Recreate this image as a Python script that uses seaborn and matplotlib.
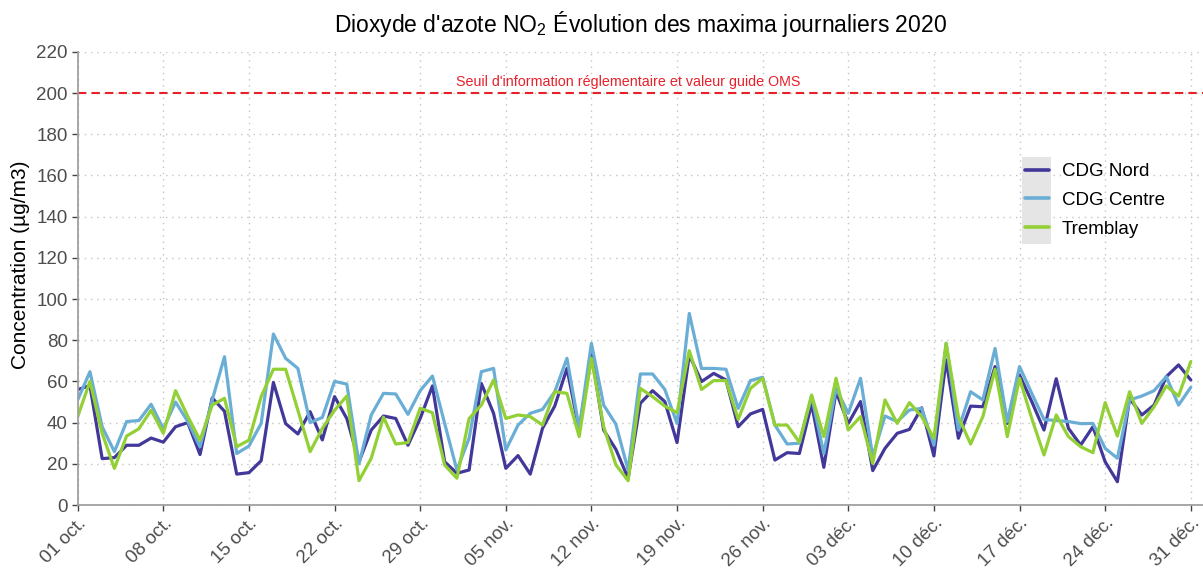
import matplotlib
matplotlib.use("Agg")
import matplotlib.pyplot as plt
from matplotlib.lines import Line2D
from matplotlib.patches import Rectangle
import seaborn as sns
import pandas as pd

# daily maxima, 01 oct -> 31 dec 2020 (µg/m3)
days = pd.date_range("2020-10-01", "2020-12-31", freq="D")

cdg_nord = [56, 58, 22.5, 23, 29, 29, 32.5, 30.5, 38, 40,
            24.5, 52, 45.5, 15, 15.7, 21.5, 59.5, 39.5, 34.5, 45.3,
            31.6, 52.6, 42, 21, 36.4, 43.2, 42, 29, 42, 57.8,
            21, 15.4, 17, 59, 44.5, 17.8, 24, 15, 37.2, 48,
            66.3, 36.4, 73.6, 36.4, 27, 13, 49.4, 55.5, 50.2, 30.3,
            72.8, 59.9, 63.9, 60.7, 38, 44.2, 46.4, 21.8, 25.4, 25,
            49, 18.3, 55, 39.6, 50.2, 16.7, 27.5, 34.8, 36.7, 47.2,
            23.8, 70.4, 32.4, 48, 47.7, 67.2, 39.6, 63.1, 50.2, 36.4,
            61.3, 37.2, 29.1, 38, 21, 11.3, 51.8, 43.7, 48.5, 62.3,
            68, 60.7]

cdg_centre = [51, 64.7, 38, 25.9, 40.5, 41, 48.9, 37, 50, 40.5,
              28.3, 51, 72, 25, 28.6, 39.6, 83, 71.2, 66.3, 40,
              42.5, 60, 58.7, 20, 43.7, 54.2, 53.9, 44, 55.5, 62.6,
              39.6, 17, 32.4, 64.7, 66.3, 26.7, 38.8, 44.5, 46.4, 55,
              71.2, 37.2, 78.5, 48.5, 39.2, 17, 63.6, 63.6, 56.1, 39.6,
              93, 66.3, 66.3, 65.9, 46.9, 60.4, 62, 38.8, 29.6, 30,
              52.9, 25, 56.6, 44.5, 61.5, 23.5, 43.2, 40.5, 46.1, 46.9,
              29.1, 78.5, 36.4, 55, 51, 76, 40.5, 67.2, 54.2, 41.5,
              41, 40.5, 39.5, 39.6, 27.5, 22.7, 51, 52.9, 55.5, 62.3,
              48.5, 57.1]

tremblay = [42.9, 60, 34.8, 17.8, 33.5, 37, 46, 34.8, 55.5, 43,
            31.5, 48.5, 51.8, 28.3, 31.5, 52.6, 65.9, 65.9, 46, 25.9,
            37.2, 46, 52.9, 11.8, 22.7, 42.6, 29.6, 30.3, 47, 44.8,
            19.4, 13, 42, 48.5, 60.7, 42, 43.7, 42.9, 38.8, 55,
            54.2, 33.2, 71.2, 38, 19.5, 11.8, 56.6, 52.6, 48, 44.8,
            74.9, 56.1, 60.4, 60.4, 41.6, 56.6, 61.5, 38.8, 38.8, 30.5,
            53.4, 33.2, 61.5, 36.4, 42.9, 20.2, 51, 39.6, 49.7, 42.9,
            32.4, 78.5, 42.9, 29.6, 42.9, 65.9, 33.2, 61.5, 42, 24.3,
            43.7, 33.2, 28.3, 25.4, 49.7, 33.5, 55, 39.6, 47.7, 57.8,
            52.9, 69.6]

stations = ["CDG Nord", "CDG Centre", "Tremblay"]
colors = ["#42389a", "#6aaed6", "#92d035"]
tick_labels = ["01 oct.", "08 oct.", "15 oct.", "22 oct.", "29 oct.", "05 nov.",
               "12 nov.", "19 nov.", "26 nov.", "03 déc.", "10 déc.", "17 déc.",
               "24 déc.", "31 déc."]
seuil = 200
seuil_label = "Seuil d'information réglementaire et valeur guide OMS"

df = pd.DataFrame({"date": days, "CDG Nord": cdg_nord,
                   "CDG Centre": cdg_centre, "Tremblay": tremblay})
df = df.melt(id_vars="date", var_name="station", value_name="no2")

sns.set_theme(style="white")
plt.rcParams["font.family"] = ["Liberation Sans", "DejaVu Sans"]
plt.rcParams["mathtext.default"] = "regular"

W, H = 1203, 569
fig = plt.figure(figsize=(W / 100, H / 100), dpi=100)
ax = fig.add_axes([77.7 / W, 64 / H, 1 - 77.7 / W, (505 - 51.8) / H])

sns.lineplot(data=df, x="date", y="no2", hue="station", hue_order=stations,
             palette=dict(zip(stations, colors)), linewidth=2.3, ax=ax, legend=False)

red = "#e8202a"
ax.axhline(seuil, color=red, linestyle=(0, (4, 2.5)), linewidth=1.5)
ax.text(pd.Timestamp("2020-11-15"), 205.5, seuil_label, color=red,
        fontsize=10.3, ha="center", va="center")

ax.set_xlim(days[0], days[-1] + pd.Timedelta(days=1))
ax.set_ylim(0, 220)
ax.set_yticks(range(0, 221, 20))
ax.set_xticks(days[::7])
ax.set_xticklabels(tick_labels, rotation=45, ha="right", rotation_mode="anchor")

ax.grid(True, color="#c4c4c4", linestyle=(0, (1, 3.5)), linewidth=1)
ax.set_axisbelow(True)
for side in ["top", "right"]:
    ax.spines[side].set_visible(False)
for side in ["left", "bottom"]:
    ax.spines[side].set_color("#a0a0a0")
    ax.spines[side].set_linewidth(1.3)
ax.tick_params(axis="both", bottom=True, left=True, length=4, width=1,
               color="#444444", labelsize=13.5, labelcolor="#4d4d4d", pad=3)

ax.set_xlabel("")
ax.set_ylabel("Concentration (µg/m3)", fontsize=15, color="black")
ax.yaxis.set_label_coords(-0.0424, 0.53)
ax.set_title("Dioxyde d'azote NO$_2$ Évolution des maxima journaliers 2020",
             fontsize=16.5, color="black", pad=14)

# ggplot-like grey key background behind the legend lines
ax.add_patch(Rectangle((1021.7 / W, (H - 244) / H), 29 / W, 87.3 / H,
                       transform=fig.transFigure, facecolor="#e5e5e5",
                       edgecolor="none", zorder=4, clip_on=False))
handles = [Line2D([], [], color=c, linewidth=2.6) for c in colors]
ax.legend(handles, stations, loc="upper left", bbox_to_anchor=(1025 / W, 1 - 163 / H),
          bbox_transform=fig.transFigure, frameon=False, fontsize=13.5,
          labelcolor="black", handlelength=1.3, handletextpad=0.65,
          labelspacing=0.62, borderpad=0, borderaxespad=0)

fig.savefig("out.png", dpi=100)
